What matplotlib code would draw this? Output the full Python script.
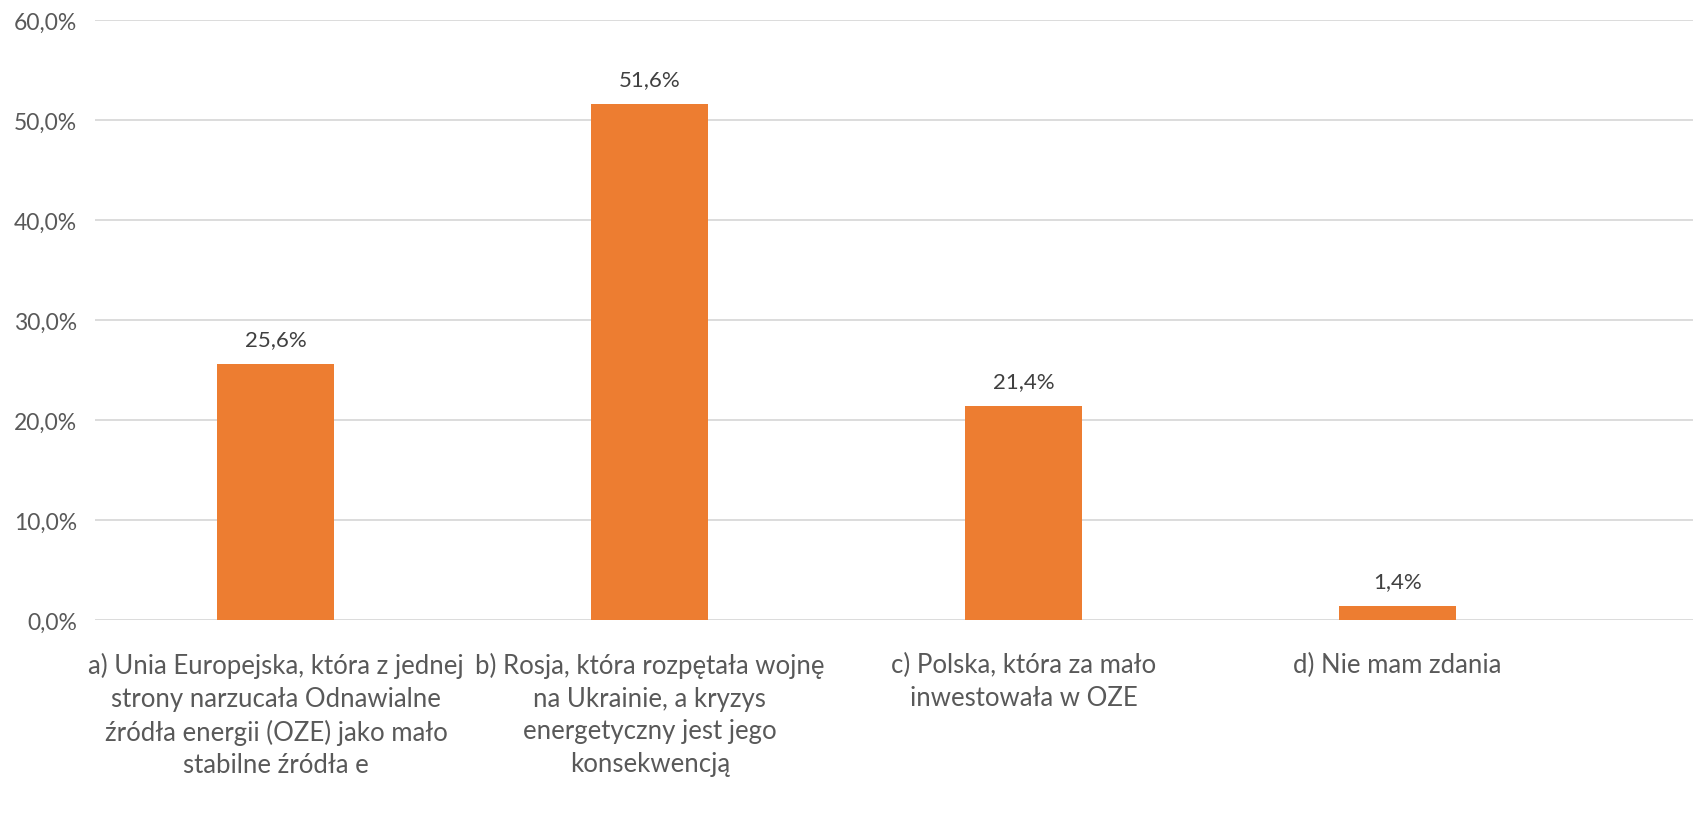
import matplotlib.pyplot as plt
from matplotlib.ticker import FuncFormatter

plt.rcParams['font.family'] = ['Lato', 'DejaVu Sans']

categories = [
    "a) Unia Europejska, która z jednej\nstrony narzucała Odnawialne\nźródła energii (OZE) jako mało\nstabilne źródła e",
    "b) Rosja, która rozpętała wojnę\nna Ukrainie, a kryzys\nenergetyczny jest jego\nkonsekwencją",
    "c) Polska, która za mało\ninwestowała w OZE",
    "d) Nie mam zdania",
]
values = [25.6, 51.6, 21.4, 1.4]
yticks = [0, 10, 20, 30, 40, 50, 60]

fig = plt.figure(figsize=(16.93, 8.29), dpi=100)
ax = fig.add_axes([95 / 1693, 1 - 621 / 829, 1 - 95 / 1693, 600 / 829])

x = list(range(len(values)))
bars = ax.bar(x, values, width=0.313, color='#ED7D31', zorder=3)

for xi, v in zip(x, values):
    ax.text(xi, v + 1.5, "{:.1f}%".format(v).replace('.', ','), ha='center', va='bottom',
            fontsize=16, color='#404040')

ax.set_ylim(0, 60)
ax.set_xlim(-0.484, 3.79)
ax.set_yticks(yticks)
ax.yaxis.set_major_formatter(FuncFormatter(lambda v, p: "{:.1f}%".format(v).replace('.', ',')))
ax.grid(axis='y', color='#D9D9D9', linewidth=1.3, zorder=0)
ax.set_xticks(x)
ax.set_xticklabels(categories, fontsize=18.5, color='#595959', linespacing=1.38)
ax.tick_params(axis='y', labelsize=16.5, labelcolor='#595959', length=0, pad=13)
ax.tick_params(axis='x', length=0, pad=23)
for s in ['top', 'right', 'left', 'bottom']:
    ax.spines[s].set_visible(False)

fig.savefig('out.png', dpi=100)
